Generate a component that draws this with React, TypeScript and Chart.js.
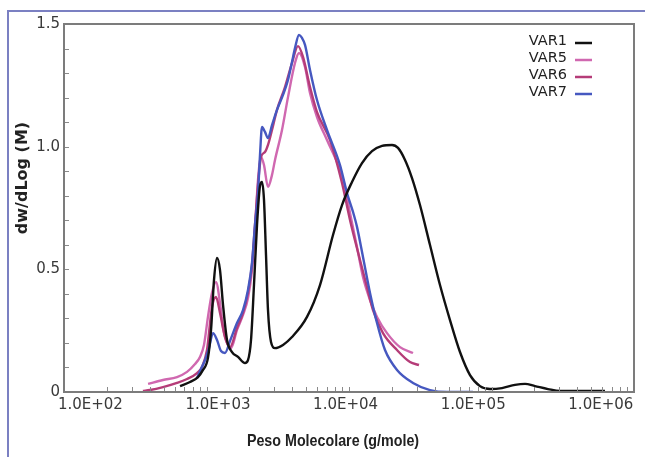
import React, { useEffect, useRef } from 'react';
import { Chart, registerables } from 'chart.js';

Chart.register(...registerables);

// ---- data ----
const SERIES_NAMES = ['VAR1', 'VAR5', 'VAR6', 'VAR7'];
const SERIES_COLORS = ['#111111', '#d068b0', '#b53c78', '#4658c0'];
const SERIES_ORDER = [0, 3, 2, 1];

const X_TICKS = [100, 1000, 10000, 100000, 1000000];
const X_TICK_LABELS = ['1.0E+02', '1.0E+03', '1.0E+04', '1.0E+05', '1.0E+06'];
const Y_TICKS = [0, 0.5, 1.0, 1.5];
const Y_TICK_LABELS = ['0', '0.5', '1.0', '1.5'];

const MW_VAR1 = [652, 766, 871, 945, 1024, 1076, 1129, 1185, 1244, 1306, 1393, 1510, 1664, 1863, 1955, 2053, 2154, 2262, 2374, 2452, 2532, 2616, 2701, 2836, 3025, 3443, 3981, 5073, 6259, 7723, 8932, 10498, 12338, 14503, 17044, 20035, 22080, 24720, 27680, 31490, 37020, 43510, 51140, 60100, 70660, 83050, 97610, 118500, 146200, 171900, 202000, 249200, 302500, 625900];
const DW_VAR1 = [0.024, 0.041, 0.061, 0.090, 0.139, 0.253, 0.457, 0.546, 0.497, 0.355, 0.212, 0.163, 0.143, 0.118, 0.130, 0.212, 0.436, 0.681, 0.840, 0.856, 0.783, 0.558, 0.334, 0.204, 0.179, 0.192, 0.224, 0.306, 0.436, 0.640, 0.762, 0.856, 0.933, 0.982, 1.003, 1.007, 0.995, 0.946, 0.872, 0.762, 0.599, 0.436, 0.293, 0.163, 0.069, 0.024, 0.012, 0.016, 0.029, 0.033, 0.024, 0.012, 0.004, 0.004];

const MW_VAR5 = [389, 495, 621, 730, 831, 900, 960, 1024, 1093, 1166, 1244, 1306, 1393, 1486, 1637, 1804, 1955, 2086, 2189, 2298, 2413, 2532, 2701, 2882, 3025, 3387, 3732, 4178, 4458, 4912, 5325, 5963, 7007, 8647, 9374, 10162, 11379, 12537, 14042, 15725, 18482, 22800, 28130];
const DW_VAR5 = [0.033, 0.049, 0.061, 0.082, 0.114, 0.143, 0.192, 0.306, 0.404, 0.448, 0.363, 0.265, 0.200, 0.179, 0.253, 0.314, 0.383, 0.497, 0.660, 0.864, 0.958, 0.925, 0.836, 0.885, 0.946, 1.068, 1.202, 1.341, 1.382, 1.325, 1.219, 1.121, 1.027, 0.905, 0.836, 0.730, 0.591, 0.469, 0.375, 0.306, 0.240, 0.183, 0.159];

const MW_VAR6 = [358, 401, 495, 621, 730, 858, 930, 1008, 1093, 1166, 1244, 1348, 1462, 1637, 1804, 1955, 2086, 2189, 2298, 2413, 2573, 2701, 2882, 3124, 3555, 3981, 4386, 4756, 5325, 5963, 7357, 8932, 10162, 11947, 13375, 14740, 17320, 21720, 26800, 30990];
const DW_VAR6 = [0.004, 0.008, 0.020, 0.037, 0.053, 0.077, 0.102, 0.171, 0.346, 0.387, 0.322, 0.224, 0.183, 0.261, 0.322, 0.404, 0.518, 0.681, 0.844, 0.958, 0.978, 1.007, 1.068, 1.150, 1.243, 1.341, 1.410, 1.366, 1.243, 1.141, 1.027, 0.852, 0.701, 0.538, 0.428, 0.334, 0.240, 0.171, 0.122, 0.110];

const MW_VAR7 = [858, 915, 976, 1041, 1111, 1185, 1264, 1348, 1462, 1637, 1804, 1955, 2086, 2189, 2298, 2374, 2452, 2573, 2701, 2882, 3124, 3443, 3732, 3981, 4178, 4458, 4680, 4912, 5325, 5963, 7007, 8647, 9683, 10670, 11379, 12537, 14042, 15725, 17890, 21720, 28130, 37020, 48720, 74170];
const DW_VAR7 = [0.057, 0.094, 0.130, 0.179, 0.240, 0.212, 0.167, 0.159, 0.208, 0.281, 0.334, 0.416, 0.526, 0.681, 0.811, 0.966, 1.080, 1.060, 1.035, 1.088, 1.150, 1.211, 1.272, 1.345, 1.402, 1.455, 1.443, 1.415, 1.313, 1.190, 1.068, 0.925, 0.811, 0.734, 0.673, 0.550, 0.404, 0.281, 0.171, 0.090, 0.037, 0.008, 0, 0];

const SERIES_MW = [MW_VAR1, MW_VAR5, MW_VAR6, MW_VAR7];
const SERIES_DW = [DW_VAR1, DW_VAR5, DW_VAR6, DW_VAR7];

const X_TITLE = 'Peso Molecolare (g/mole)';
const Y_TITLE = 'dw/dLog (M)';

const TICK_FONT = { family: '"DejaVu Sans", sans-serif', size: 15 };

const decorPlugin = {
  id: 'decor',
  afterDatasetsDraw(chart: any) {
    const { ctx, chartArea } = chart;
    const { left, right, top, bottom } = chartArea;
    const xs = chart.scales.x;
    const ys = chart.scales.y;
    ctx.save();
    // inward minor ticks
    ctx.strokeStyle = '#8a8a8a';
    ctx.lineWidth = 1;
    ctx.beginPath();
    for (let d = 2; d <= 5; d++) {
      for (let k = 1; k <= 9; k++) {
        const v = k * Math.pow(10, d);
        if (d === 2 && k === 1) continue;
        const px = Math.round(xs.getPixelForValue(v)) + 0.5;
        ctx.moveTo(px, bottom);
        ctx.lineTo(px, bottom - 5);
      }
    }
    for (let i = 1; i < 15; i++) {
      const py = Math.round(ys.getPixelForValue(i / 10)) + 0.5;
      ctx.moveTo(left, py);
      ctx.lineTo(left + 5, py);
    }
    ctx.stroke();
    // plot frame
    ctx.strokeStyle = '#7c7c7c';
    ctx.lineWidth = 2;
    ctx.strokeRect(left, top, right - left, bottom - top);
    ctx.restore();
  },
  afterDraw(chart: any) {
    const { ctx, chartArea } = chart;
    const { left, right, top, bottom } = chartArea;
    ctx.save();
    // legend (text then line sample)
    chart.data.datasets.forEach((ds: any, i: number) => {
      const y = top + 17 + i * 17;
      ctx.font = '14.5px "DejaVu Sans", sans-serif';
      ctx.fillStyle = '#222';
      ctx.textAlign = 'right';
      ctx.textBaseline = 'middle';
      ctx.fillText(ds.label, right - 67, y);
      ctx.strokeStyle = ds.borderColor;
      ctx.lineWidth = 2.5;
      ctx.beginPath();
      ctx.moveTo(right - 59, y + 2);
      ctx.lineTo(right - 42, y + 2);
      ctx.stroke();
    });
    // axis titles
    ctx.fillStyle = '#222';
    ctx.textAlign = 'center';
    ctx.textBaseline = 'alphabetic';
    ctx.save();
    ctx.translate((left + right) / 2 - 16, bottom + 54);
    ctx.scale(0.84, 1);
    ctx.font = 'bold 17px "Liberation Sans", Arial, sans-serif';
    ctx.fillText(X_TITLE, 0, 0);
    ctx.restore();
    ctx.translate(27, (top + bottom) / 2 - 30);
    ctx.rotate(-Math.PI / 2);
    ctx.font = 'bold 16px "DejaVu Sans", sans-serif';
    ctx.fillText(Y_TITLE, 0, 0);
    ctx.restore();
  },
};

export default function App() {
  const ref = useRef<HTMLCanvasElement>(null);

  useEffect(() => {
    const canvas = ref.current;
    if (!canvas) return;
    const datasets = SERIES_NAMES.map((name, i) => ({
      label: name,
      data: SERIES_MW[i].map((m, j) => ({ x: m, y: SERIES_DW[i][j] })),
      borderColor: SERIES_COLORS[i],
      backgroundColor: SERIES_COLORS[i],
      borderWidth: 2.4,
      pointRadius: 0,
      cubicInterpolationMode: 'monotone' as const,
      fill: false,
      xAxisID: 'x',
      yAxisID: 'y',
      order: SERIES_ORDER[i],
    }));
    const chart = new Chart(canvas, {
      type: 'line',
      data: { datasets },
      options: {
        responsive: false,
        animation: false,
        layout: { padding: { left: 0, top: 24, right: 11, bottom: 0 } },
        plugins: { legend: { display: false }, tooltip: { enabled: false } },
        scales: {
          x: { type: 'logarithmic', min: 100, max: 1000000, display: false },
          xl: {
            type: 'logarithmic',
            position: 'bottom',
            min: 62.1,
            max: 1820000,
            grid: { display: false, drawTicks: false },
            border: { display: false },
            afterBuildTicks: (s: any) => {
              s.ticks = X_TICKS.map((v) => ({ value: v }));
            },
            afterFit: (s: any) => {
              s.height = 65;
            },
            ticks: {
              autoSkip: false,
              maxRotation: 0,
              padding: 4,
              color: '#3a3a3a',
              font: TICK_FONT,
              callback: (_v: any, i: number) => X_TICK_LABELS[i],
            },
          },
          y: {
            type: 'linear',
            position: 'left',
            min: 0,
            max: 1.5,
            grid: { display: false, drawTicks: false },
            border: { display: false },
            afterBuildTicks: (s: any) => {
              s.ticks = Y_TICKS.map((v) => ({ value: v }));
            },
            afterFit: (s: any) => {
              s.width = 64;
            },
            ticks: {
              padding: 4,
              color: '#3a3a3a',
              font: TICK_FONT,
              callback: (_v: any, i: number) => Y_TICK_LABELS[i],
            },
          },
        } as any,
      },
      plugins: [decorPlugin],
    });
    return () => chart.destroy();
  }, []);

  return (
    <div style={{ position: 'fixed', left: 0, top: 0, width: 645, height: 457, overflow: 'hidden', background: '#fff' }}>
      <div
        style={{
          position: 'absolute',
          left: 7,
          top: 10,
          width: 700,
          height: 500,
          borderLeft: '2px solid #7b80c2',
          borderTop: '2px solid #7b80c2',
        }}
      />
      <canvas ref={ref} width={645} height={457} style={{ position: 'absolute', left: 0, top: 0, display: 'block' }} />
    </div>
  );
}
